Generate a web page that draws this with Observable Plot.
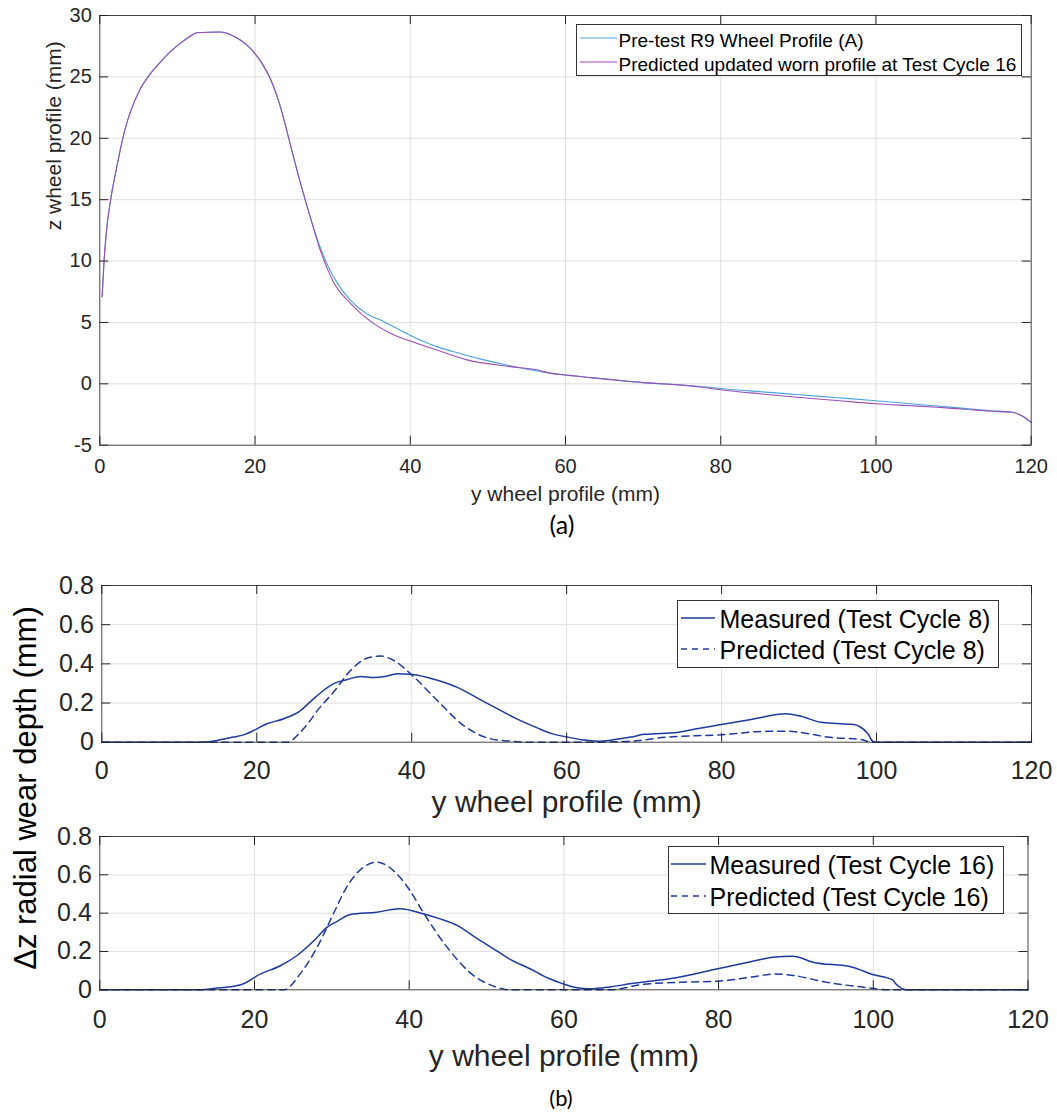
<!DOCTYPE html>
<html><head><meta charset="utf-8">
<script src="https://cdn.jsdelivr.net/npm/d3@7"></script>
<script src="https://cdn.jsdelivr.net/npm/@observablehq/plot@0.6"></script>
<style>
html,body{margin:0;padding:0;background:#fff;}
#root{position:relative;width:1057px;height:1113px;background:#fff;overflow:hidden;font-family:"Liberation Sans",Arial,Helvetica,sans-serif;color:#262626;}
.abs{position:absolute;white-space:nowrap;}
</style></head><body><div id="root"></div>
<script>
// ---------- DATA ----------
const xTicks = [0, 20, 40, 60, 80, 100, 120];
const zTicks = [-5, 0, 5, 10, 15, 20, 25, 30];
const wearTicks = [0, 0.2, 0.4, 0.6, 0.8];

const preY = [0.3,0.55,0.85,1.3,2.2,3.0,3.6,4.4,5.2,6.5,7.8,9.0,10.4,11.5,12.5,15.5,17.0,18.1,19.1,20.0,21.0,22.0,23.3,24.3,25.4,26.5,27.6,28.4,29.4,30.6,32.3,34.4,36.6,38.0,39.9,43.4,46.5,49.5,53.8,58.0,60,65,70,75,77.4,80,85,90.2,95,100,104,107.4,111,115,117.5,118.5,119.3,120];
const preZ = [7.1,10.0,12.4,14.6,17.7,20.1,21.5,22.9,24.0,25.25,26.2,27.0,27.75,28.25,28.6,28.65,28.4,28.0,27.5,26.9,26.0,24.8,22.5,20.1,17.4,14.9,12.6,11.1,9.6,8.2,6.8,5.7,5.06,4.6,3.98,3.03,2.45,1.95,1.35,0.87,0.72,0.4,0.1,-0.1,-0.22,-0.38,-0.64,-0.89,-1.13,-1.38,-1.6,-1.79,-1.98,-2.19,-2.3,-2.5,-2.8,-3.14];

const wornY = [0.3,0.55,0.85,1.3,2.2,3.0,3.6,4.4,5.2,6.5,7.8,9.0,10.4,11.5,12.5,15.5,17.0,18.1,19.1,20.0,21.0,22.0,23.3,24.3,25.4,26.5,27.5,28.4,29.3,30.1,32.3,35.3,37.5,39.9,43.4,47.3,52.9,56.3,58.0,60,65,70,75,77.4,80,85,90.2,95,100,104,107.4,111,115,117.5,118.5,119.3,120];
const wornZ = [7.1,10.0,12.4,14.6,17.7,20.1,21.5,22.9,24.0,25.25,26.2,27.0,27.75,28.25,28.6,28.65,28.4,28.0,27.5,26.9,26.0,24.8,22.5,20.1,17.4,14.9,12.75,10.9,9.4,8.3,6.55,4.9,4.1,3.5,2.76,1.95,1.4,1.14,0.87,0.72,0.4,0.1,-0.11,-0.26,-0.48,-0.81,-1.11,-1.36,-1.62,-1.77,-1.89,-2.05,-2.24,-2.32,-2.52,-2.8,-3.14];

const meas8Y = [0,13,15,17,18.5,19.6,21.3,23.5,25.6,27,28.6,30,31.7,33.4,35.1,36.5,38.1,40.1,43,45.9,48.5,51.1,53.5,56.2,58,60.1,62,64,66,68.3,70,74.3,77,80,84,88.3,90,92.8,95,97.1,97.8,98.9,99.5,100,120];
const meas8V = [0,0,0.01,0.026,0.04,0.06,0.094,0.12,0.16,0.21,0.264,0.3,0.32,0.336,0.33,0.335,0.35,0.346,0.32,0.28,0.225,0.17,0.12,0.073,0.045,0.026,0.012,0.005,0.012,0.026,0.04,0.05,0.07,0.09,0.117,0.145,0.135,0.102,0.095,0.09,0.08,0.043,0.005,0,0];

const pred8Y = [0,23.9,25.6,26.7,27.8,30,32.1,34.3,36,37.7,40.1,43.3,46.7,50.2,52.8,55,64,66,68.3,73,80,85.9,88.5,91,93.7,98,99.3,120];
const pred8V = [0,0,0.05,0.1,0.16,0.26,0.366,0.43,0.44,0.417,0.34,0.213,0.085,0.017,0.005,0,0,0.002,0.005,0.026,0.038,0.056,0.056,0.045,0.026,0.014,0,0];

const meas16Y = [0,13,15,17.3,18.2,20.8,23.4,25.5,27.7,29.4,30.8,32.4,35.8,38.8,41.8,44,46.2,48.5,50.9,53,55.6,58,59.9,61.5,63.4,66,68.5,74.5,79.9,84,87,89.6,92.2,97.3,99.9,102.5,102.9,103.8,104.2,120];
const meas16V = [0,0,0.008,0.019,0.026,0.083,0.127,0.179,0.257,0.327,0.36,0.393,0.405,0.423,0.397,0.37,0.336,0.275,0.214,0.16,0.11,0.06,0.031,0.012,0.005,0.015,0.031,0.063,0.11,0.145,0.17,0.175,0.144,0.118,0.08,0.052,0.031,0.005,0,0];

const pred16Y = [0,23.8,25.9,28.1,30.2,31.9,34.1,35.8,36.3,38.4,40.1,41.8,44.9,48.3,51.3,53,65.9,70.2,75.4,79.9,84,87.4,89.6,93.9,98.6,102.1,120];
const pred16V = [0,0,0.083,0.222,0.397,0.535,0.64,0.666,0.663,0.605,0.518,0.405,0.222,0.075,0.014,0,0,0.028,0.04,0.045,0.065,0.083,0.075,0.04,0.014,0,0];

const labelsA = ["Pre-test R9 Wheel Profile (A)", "Predicted updated worn profile at Test Cycle 16"];
const labels8 = ["Measured (Test Cycle 8)", "Predicted (Test Cycle 8)"];
const labels16 = ["Measured (Test Cycle 16)", "Predicted (Test Cycle 16)"];

// ---------- STYLE ----------
const FONT = '"Liberation Sans", Arial, Helvetica, sans-serif';
const GRID = "#e0e0e0";
const AXIS = "#262626";
const BLUE = "#4aa3e0";
const PURPLE = "#9a4fb4";
const NAVY = "#1f3a9e";
const TICK = 9;

const zip = (xs, ys) => xs.map((x, i) => ({x, y: ys[i]}));
const root = document.getElementById("root");

function panel(o) {
  const W = o.right - o.left, H = o.frameBottom - o.frameTop;
  const fmt = d => String(d);
  const marks = [
    Plot.gridX(o.xTicks.slice(1, -1), {stroke: GRID, strokeOpacity: 1}),
    Plot.gridY(o.yTicks.slice(1, -1), {stroke: GRID, strokeOpacity: 1}),
    ...o.series.map(s => Plot.line(s.data, {x: "x", y: "y", stroke: s.color, strokeWidth: s.width, strokeDasharray: s.dash, curve: "monotone-x"})),
    Plot.frame({stroke: AXIS, strokeOpacity: 0.85}),
    Plot.tickX(o.xTicks, {x: d => d, insetTop: H - TICK, stroke: AXIS}),
    Plot.tickX(o.xTicks, {x: d => d, insetBottom: H - TICK, stroke: AXIS}),
    Plot.tickY(o.yTicks, {y: d => d, insetRight: W - TICK, stroke: AXIS}),
    Plot.tickY(o.yTicks, {y: d => d, insetLeft: W - TICK, stroke: AXIS}),
    Plot.axisX({ticks: o.xTicks, tickSize: 0, tickPadding: o.padX, fontSize: o.tickFont, tickFormat: fmt, label: null}),
    Plot.axisY({ticks: o.yTicks, tickSize: 0, tickPadding: o.padY, fontSize: o.tickFont, tickFormat: fmt, label: null}),
    Plot.text([o.xLabel], {frameAnchor: "bottom", dy: o.xLabelDy, fontSize: o.labelFont, lineAnchor: "middle"})
  ];
  if (o.yLabel) marks.push(Plot.text([o.yLabel], {frameAnchor: "left", dx: o.yLabelDx, rotate: -90, fontSize: o.labelFont, lineAnchor: "middle"}));
  const svg = Plot.plot({
    width: 1057, height: o.height,
    marginLeft: o.left, marginRight: 1057 - o.right,
    marginTop: o.frameTop - o.top, marginBottom: o.top + o.height - o.frameBottom,
    x: {domain: o.xDomain, label: null},
    y: {domain: o.yDomain, label: null},
    style: {fontFamily: FONT, color: AXIS, background: "transparent", overflow: "visible"},
    marks
  });
  svg.style.position = "absolute";
  svg.style.left = "0px";
  svg.style.top = o.top + "px";
  root.appendChild(svg);
}

function legend(o) {
  const box = document.createElement("div");
  box.className = "abs";
  Object.assign(box.style, {left: o.l + "px", top: o.t + "px", width: (o.r - o.l) + "px", height: (o.b - o.t) + "px",
    border: "1px solid #333", boxSizing: "border-box", background: "#fff"});
  root.appendChild(box);
  o.items.forEach(it => {
    const ns = "http://www.w3.org/2000/svg";
    const s = document.createElementNS(ns, "svg");
    s.setAttribute("width", o.x2 - o.x1); s.setAttribute("height", 10);
    Object.assign(s.style, {position: "absolute", left: o.x1 + "px", top: (it.y - 5) + "px"});
    const ln = document.createElementNS(ns, "line");
    ln.setAttribute("x1", 0); ln.setAttribute("x2", o.x2 - o.x1); ln.setAttribute("y1", 5); ln.setAttribute("y2", 5);
    ln.setAttribute("stroke", it.color); ln.setAttribute("stroke-width", it.width);
    if (it.dash) ln.setAttribute("stroke-dasharray", it.dash);
    s.appendChild(ln); root.appendChild(s);
    const t = document.createElement("div");
    t.className = "abs"; t.textContent = it.label;
    Object.assign(t.style, {left: o.tx + "px", top: it.ty + "px", fontSize: o.fs + "px", lineHeight: "1", transform: "translateY(-50%)", color: "#000"});
    root.appendChild(t);
  });
}

function textAt(txt, x, y, fs, family, extra) {
  const d = document.createElement("div");
  d.className = "abs"; d.textContent = txt;
  Object.assign(d.style, {left: x + "px", top: y + "px", fontSize: fs + "px", lineHeight: "1", fontFamily: family || FONT,
    transform: "translate(-50%,-50%)" + (extra || ""), color: "#000"});
  root.appendChild(d);
}

// ---------- PANEL (a) ----------
panel({
  top: 0, height: 510, left: 99.3, right: 1030.7, frameTop: 15, frameBottom: 444.7,
  xDomain: [0, 120], yDomain: [-5, 30], xTicks, yTicks: zTicks,
  tickFont: 20, labelFont: 21, padX: 14, padY: 8,
  xLabel: "y wheel profile (mm)", xLabelDy: 49,
  yLabel: "z wheel profile (mm)", yLabelDx: -46,
  series: [
    {data: zip(preY, preZ), color: BLUE, width: 1.1},
    {data: zip(wornY, wornZ), color: PURPLE, width: 1.1}
  ]
});
legend({l: 576, t: 24, r: 1022, b: 76, x1: 580, x2: 617, tx: 618.5, fs: 19,
  items: [
    {y: 37.7, ty: 40, label: labelsA[0], color: BLUE, width: 1.2},
    {y: 62, ty: 63.5, label: labelsA[1], color: PURPLE, width: 1.2}
  ]});
textAt("(a)", 562, 524, 25, "Lato, 'Open Sans', sans-serif");

// ---------- PANEL (b) top ----------
panel({
  top: 560, height: 270, left: 101.3, right: 1031, frameTop: 585, frameBottom: 741.7,
  xDomain: [0, 120], yDomain: [0, 0.8], xTicks, yTicks: wearTicks,
  tickFont: 25, labelFont: 30, padX: 19, padY: 8,
  xLabel: "y wheel profile (mm)", xLabelDy: 60,
  series: [
    {data: zip(meas8Y, meas8V), color: NAVY, width: 1.5},
    {data: zip(pred8Y, pred8V), color: NAVY, width: 1.5, dash: "7,5"}
  ]
});
legend({l: 677, t: 600, r: 998.5, b: 667.5, x1: 681, x2: 715, tx: 719.5, fs: 25,
  items: [
    {y: 617.7, ty: 618.5, label: labels8[0], color: NAVY, width: 1.5},
    {y: 649, ty: 650, label: labels8[1], color: NAVY, width: 1.5, dash: "6,5"}
  ]});

// ---------- PANEL (b) bottom ----------
panel({
  top: 830, height: 250, left: 99.3, right: 1027.5, frameTop: 836, frameBottom: 989.3,
  xDomain: [0, 120], yDomain: [0, 0.8], xTicks, yTicks: wearTicks,
  tickFont: 25, labelFont: 30, padX: 20, padY: 8,
  xLabel: "y wheel profile (mm)", xLabelDy: 67,
  series: [
    {data: zip(meas16Y, meas16V), color: NAVY, width: 1.5},
    {data: zip(pred16Y, pred16V), color: NAVY, width: 1.5, dash: "7,5"}
  ]
});
legend({l: 667.5, t: 846, r: 1003.5, b: 913.5, x1: 671, x2: 706, tx: 709.5, fs: 25,
  items: [
    {y: 864, ty: 864.5, label: labels16[0], color: NAVY, width: 1.5},
    {y: 895.7, ty: 896.5, label: labels16[1], color: NAVY, width: 1.5, dash: "6,5"}
  ]});

// shared y label for (b)
textAt("\u0394z radial wear depth (mm)", 24.5, 787.5, 31, FONT, " rotate(-90deg)");
textAt("(b)", 561, 1098, 22, "Lato, 'Open Sans', sans-serif");
</script>
</body></html>
